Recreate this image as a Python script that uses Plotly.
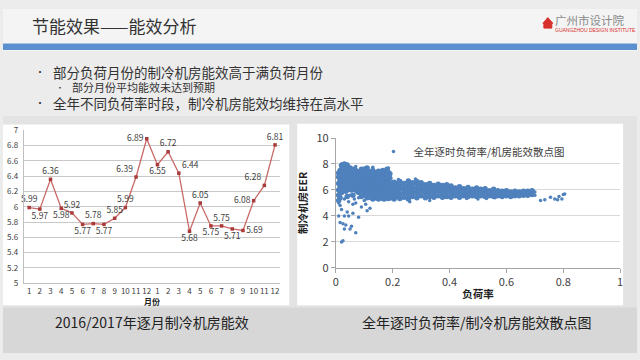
import plotly.graph_objects as go

W, H = 640, 360
def px(x): return x / W
def py(y): return 1 - y / H

# ---------------- data ----------------
month_labels = ["1","2","3","4","5","6","7","8","9","10","11","12",
                "1","2","3","4","5","6","7","8","9","10","11","12"]
monthly_eer = [5.99, 5.97, 6.36, 5.98, 5.92, 5.77, 5.78, 5.77, 5.85, 5.99, 6.39, 6.89,
               6.55, 6.72, 6.44, 5.68, 6.05, 5.75, 5.75, 5.71, 5.69, 6.08, 6.28, 6.81]
label_pos = ["top center","bottom center","top center","bottom center","top center","bottom center",
             "top center","bottom center","top center","top center","top left","middle left",
             "bottom center","top center","top right","bottom center","top center","bottom center",
             "top center","bottom center","middle right","middle left","top left","top center"]

# scatter: left blob (low load rate)
blob_cols = [
    (0.010, [5.2, 5.6, 6.0, 6.5, 7.0, 7.3]),
    (0.015, [5.4, 5.8, 6.25, 6.75, 7.15, 7.5]),
    (0.020, [5.8, 6.2, 6.6, 6.9, 7.2, 7.6, 7.9]),
    (0.025, [6.0, 6.4, 6.75, 7.05, 7.4, 7.8]),
    (0.030, [6.1, 6.4, 6.7, 7.0, 7.3, 7.7, 8.0]),
    (0.035, [5.9, 6.25, 6.55, 6.85, 7.15, 7.45]),
    (0.040, [5.5, 6.0, 6.3, 6.6, 6.9, 7.2, 7.5, 7.9]),
    (0.045, [6.1, 6.4, 6.7, 7.0, 7.3]),
    (0.050, [6.2, 6.5, 6.8, 7.1, 7.4, 7.7]),
    (0.055, [6.0, 6.35, 6.65, 6.95, 7.25]),
    (0.060, [5.6, 6.1, 6.4, 6.7, 7.0, 7.3, 7.6]),
    (0.065, [6.2, 6.5, 6.8, 7.1, 7.4]),
    (0.070, [6.0, 6.3, 6.6, 6.9, 7.2, 7.5]),
    (0.075, [5.9, 6.45, 6.75, 7.05, 7.35]),
    (0.080, [5.8, 6.2, 6.5, 6.8, 7.1, 7.4]),
    (0.085, [6.1, 6.35, 6.65, 6.95, 7.25]),
    (0.090, [5.5, 6.0, 6.3, 6.6, 6.9, 7.2, 7.6]),
    (0.095, [5.9, 6.2, 6.5, 6.8, 7.1, 7.4]),
    (0.100, [5.7, 6.1, 6.4, 6.7, 7.0, 7.3]),
    (0.105, [5.6, 5.95, 6.3, 6.6, 6.9, 7.2, 7.5]),
    (0.110, [5.4, 5.8, 6.2, 6.5, 6.8, 7.1, 7.4, 7.7]),
    (0.115, [5.6, 6.0, 6.35, 6.65, 6.95, 7.25]),
    (0.120, [5.5, 5.9, 6.2, 6.5, 6.8, 7.1, 7.4]),
    (0.125, [5.4, 5.75, 6.05, 6.4, 6.7, 7.0, 7.3]),
    (0.130, [5.3, 5.6, 5.95, 6.3, 6.6, 6.9, 7.2, 7.5]),
    (0.135, [5.5, 5.85, 6.2, 6.5, 6.8, 7.1, 7.35]),
    (0.140, [5.4, 5.75, 6.1, 6.4, 6.7, 7.0, 7.3]),
    (0.145, [5.5, 5.85, 6.15, 6.45, 6.75, 7.05, 7.35]),
    (0.150, [5.3, 5.6, 5.95, 6.25, 6.55, 6.85, 7.15, 7.45]),
    (0.155, [5.45, 5.8, 6.15, 6.45, 6.75, 7.05, 7.3]),
    (0.160, [5.4, 5.75, 6.1, 6.4, 6.7, 7.0, 7.3]),
    (0.165, [5.35, 5.65, 6.0, 6.3, 6.6, 6.9, 7.2, 7.5]),
    (0.170, [5.3, 5.6, 5.9, 6.2, 6.5, 6.8, 7.1, 7.4]),
    (0.175, [5.45, 5.8, 6.1, 6.4, 6.7, 7.0, 7.3]),
    (0.180, [5.4, 5.7, 6.0, 6.3, 6.6, 6.9, 7.2, 7.6]),
    (0.185, [5.35, 5.65, 5.95, 6.3, 6.65, 7.0, 7.35]),
    (0.190, [5.5, 5.85, 6.2, 6.55, 6.9, 7.25]),
]
# scatter: main band
band_cols = [
    (0.195, [5.4, 5.75, 6.1, 6.45]),
    (0.205, [5.3, 5.6, 5.95, 6.3, 6.6]),
    (0.215, [5.5, 5.85, 6.2, 6.5]),
    (0.225, [5.35, 5.7, 6.05, 6.4, 6.65]),
    (0.24, [5.45, 5.8, 6.15, 6.5]),
    (0.255, [5.3, 5.65, 6.0, 6.35, 6.7]),
    (0.27, [5.5, 5.85, 6.2, 6.55]),
    (0.285, [5.4, 5.75, 6.1, 6.45, 6.65]),
    (0.30, [5.55, 5.9, 6.25, 6.55]),
    (0.315, [5.4, 5.75, 6.05, 6.4]),
    (0.33, [5.5, 5.85, 6.2, 6.5]),
    (0.345, [5.45, 5.75, 6.05, 6.35]),
    (0.36, [5.55, 5.9, 6.2, 6.45]),
    (0.375, [5.45, 5.75, 6.05, 6.35]),
    (0.39, [5.5, 5.85, 6.15, 6.4]),
    (0.405, [5.45, 5.75, 6.05, 6.3]),
    (0.42, [5.55, 5.85, 6.15]),
    (0.435, [5.45, 5.7, 6.0, 6.25]),
    (0.45, [5.55, 5.8, 6.1]),
    (0.465, [5.5, 5.75, 6.0, 6.2]),
    (0.48, [5.55, 5.8, 6.05]),
    (0.495, [5.5, 5.7, 5.95, 6.15]),
    (0.51, [5.55, 5.8, 6.05]),
    (0.525, [5.5, 5.7, 5.9, 6.1]),
    (0.54, [5.55, 5.75, 5.95]),
    (0.555, [5.5, 5.7, 5.9, 6.05]),
    (0.57, [5.55, 5.75, 5.95]),
    (0.585, [5.5, 5.7, 5.9]),
    (0.60, [5.55, 5.75, 5.95]),
    (0.615, [5.5, 5.7, 5.85]),
    (0.63, [5.55, 5.75, 5.9]),
    (0.645, [5.55, 5.7, 5.85]),
    (0.66, [5.6, 5.75, 5.9]),
    (0.675, [5.6, 5.75, 5.9]),
    (0.69, [5.65, 5.8, 5.95]),
]
# scatter: sparse / outlying points
sparse_load = [0.015, 0.01, 0.03, 0.045, 0.05, 0.06, 0.065, 0.07, 0.08, 0.09, 0.10, 0.12, 0.11, 0.105,
               0.02, 0.025, 0.03, 0.035, 0.015, 0.025, 0.05, 0.055, 0.07, 0.08, 0.03, 0.04, 0.045, 0.01,
               0.06, 0.02, 0.07, 0.10, 0.13, 0.185, 0.02, 0.04,
               0.26, 0.33, 0.46, 0.50, 0.53, 0.56, 0.28, 0.22,
               0.70, 0.72, 0.735, 0.755, 0.77, 0.78, 0.785, 0.795, 0.80, 0.805, 0.70]
sparse_eer = [4.8, 5.0, 5.3, 5.1, 5.6, 4.9, 5.3, 5.0, 5.4, 4.7, 5.2, 4.6, 4.4, 4.9,
              2.0, 2.1, 3.0, 3.3, 3.5, 3.4, 3.0, 3.2, 2.7, 3.9, 4.0, 4.3, 4.0, 4.0,
              4.2, 4.5, 7.8, 7.7, 7.75, 7.7, 8.0, 8.0,
              5.1, 5.2, 5.35, 5.3, 5.35, 5.4, 6.85, 6.8,
              5.85, 5.2, 5.25, 5.45, 5.3, 5.25, 5.5, 5.3, 5.65, 5.7, 5.6]

cloud_load = []
cloud_eer = []
for xv, ys in blob_cols + band_cols:
    for yv in ys:
        cloud_load.append(xv)
        cloud_eer.append(yv)

FONT = "Noto Sans CJK SC"
BLUE = "#4f81bd"

fig = go.Figure()

fig.add_trace(go.Scatter(
    x=list(range(len(monthly_eer))), y=monthly_eer, mode="lines+markers+text",
    text=[f"{v:.2f}" for v in monthly_eer], textposition=label_pos,
    textfont=dict(size=8.5, color="#404040", family=FONT),
    line=dict(color="#c96a68", width=1.3),
    marker=dict(symbol="square", size=3.5, color="#a83a3a"),
    xaxis="x", yaxis="y", showlegend=False, cliponaxis=False))

fig.add_trace(go.Scatter(
    x=cloud_load, y=cloud_eer, mode="markers", name="全年逐时负荷率/机房能效散点图",
    legendgroup="s", showlegend=False,
    marker=dict(symbol="circle", size=5.5, color=BLUE),
    xaxis="x2", yaxis="y2"))
fig.add_trace(go.Scatter(
    x=sparse_load, y=sparse_eer, mode="markers", name="全年逐时负荷率/机房能效散点图",
    legendgroup="s", showlegend=True,
    marker=dict(symbol="circle", size=3.5, color=BLUE),
    xaxis="x2", yaxis="y2"))

shapes = []
# backgrounds
shapes.append(dict(type="rect", xref="paper", yref="paper", x0=0, x1=1, y0=py(44), y1=1,
                   fillcolor="#f4f4f4", line_width=0, layer="below"))
shapes.append(dict(type="rect", xref="paper", yref="paper", x0=0, x1=1, y0=py(43), y1=py(36),
                   fillcolor="#5b8fd0", line_width=0, layer="below"))
shapes.append(dict(type="rect", xref="paper", yref="paper", x0=0, x1=1, y0=py(312), y1=py(112),
                   fillcolor="#e3e3e3", line_width=0, layer="below"))
shapes.append(dict(type="rect", xref="paper", yref="paper", x0=0, x1=1, y0=0, y1=py(312),
                   fillcolor="#d7d7d7", line_width=0, layer="below"))
# chart panels
shapes.append(dict(type="rect", xref="paper", yref="paper", x0=px(0), x1=px(289), y0=py(310), y1=py(121),
                   fillcolor="white", line_width=0, layer="below"))
shapes.append(dict(type="rect", xref="paper", yref="paper", x0=px(297), x1=px(626), y0=py(310), y1=py(120),
                   fillcolor="white", line_width=0, layer="below"))
# logo house icon
hx = [545, 550, 555, 554, 554, 546, 546]
hy = [15, 9, 15, 15, 20, 20, 15]
path = "M " + " L ".join(f"{px(a)},{py(b)}" for a, b in zip(hx, hy)) + " Z"
shapes.append(dict(type="path", xref="paper", yref="paper", path=path,
                   fillcolor="#d8302a", line=dict(color="#d8302a", width=1)))

annotations = [
    dict(text="节能效果——能效分析", x=px(28), y=py(17), xanchor="left", yanchor="middle",
         font=dict(size=17, color="#333333", family=FONT)),
    dict(text="广州市设计院", x=px(556), y=py(11), xanchor="left", yanchor="middle",
         font=dict(size=11.5, color="#8a8a8a", family=FONT)),
    dict(text="GUANGZHOU DESIGN INSTITUTE", x=px(556), y=py(22), xanchor="left", yanchor="middle",
         font=dict(size=5, color="#d8302a", family="Liberation Sans")),
    dict(text="•", x=px(37), y=py(65.5), xanchor="center", yanchor="middle",
         font=dict(size=10, color="#333333", family=FONT)),
    dict(text="部分负荷月份的制冷机房能效高于满负荷月份", x=px(49), y=py(65.5), xanchor="left", yanchor="middle",
         font=dict(size=13.5, color="#333333", family=FONT)),
    dict(text="•", x=px(58), y=py(82), xanchor="center", yanchor="middle",
         font=dict(size=8, color="#333333", family=FONT)),
    dict(text="部分月份平均能效未达到预期", x=px(69), y=py(82), xanchor="left", yanchor="middle",
         font=dict(size=11, color="#333333", family=FONT)),
    dict(text="•", x=px(37), y=py(98), xanchor="center", yanchor="middle",
         font=dict(size=10, color="#333333", family=FONT)),
    dict(text="全年不同负荷率时段，制冷机房能效均维持在高水平", x=px(49), y=py(98.5), xanchor="left", yanchor="middle",
         font=dict(size=13.5, color="#333333", family=FONT)),
    dict(text="2016/2017年逐月制冷机房能效", x=px(150), y=py(328), xanchor="center", yanchor="middle",
         font=dict(size=14, color="#222222", family=FONT)),
    dict(text="全年逐时负荷率/制冷机房能效散点图", x=px(478), y=py(328), xanchor="center", yanchor="middle",
         font=dict(size=14, color="#222222", family=FONT)),
]
for a in annotations:
    a.update(xref="paper", yref="paper", showarrow=False, borderpad=0)

fig.update_layout(
    width=W, height=H, margin=dict(l=0, r=0, t=0, b=0),
    paper_bgcolor="#ececec", plot_bgcolor="rgba(0,0,0,0)",
    font=dict(family=FONT, color="#404040"),
    shapes=shapes, annotations=annotations,
    xaxis=dict(domain=[px(21), px(280)], range=[-0.5, 23.5],
               tickmode="array", tickvals=list(range(len(month_labels))), ticktext=month_labels,
               tickangle=0,
               tickfont=dict(size=8, color="#404040"), showgrid=False, zeroline=False,
               showline=True, linecolor="#bfbfbf", ticks="", anchor="y",
               title=dict(text="<b>月份</b>", font=dict(size=8, color="#222222"), standoff=2)),
    yaxis=dict(domain=[py(287), py(127)], range=[5, 7], dtick=0.2, tickformat="~g",
               tickfont=dict(size=8, color="#404040"), showgrid=True, gridcolor="#c8c8c8",
               gridwidth=0.8, zeroline=False, showline=True, linecolor="#bfbfbf", anchor="x",
               ticklabelstandoff=3),
    xaxis2=dict(domain=[px(336), px(623)], range=[0, 1], dtick=0.2, tickformat="~g",
                tickfont=dict(size=11, color="#404040"), showgrid=False, zeroline=False,
                showline=True, linecolor="#a6a6a6", ticks="outside", ticklen=4, tickcolor="#a6a6a6",
                anchor="y2",
                title=dict(text="<b>负荷率</b>", font=dict(size=10.5, color="#222222"), standoff=2)),
    yaxis2=dict(domain=[py(271), py(135)], range=[0, 10], dtick=2,
                tickfont=dict(size=11, color="#404040"), showgrid=True, gridcolor="#d9d9d9",
                zeroline=False, showline=True, linecolor="#a6a6a6", ticks="outside", ticklen=4,
                tickcolor="#a6a6a6", anchor="x2",
                title=dict(text="<b>制冷机房EER</b>", font=dict(size=10.5, color="#222222"), standoff=6)),
    legend=dict(x=px(374), y=py(134), xanchor="left", yanchor="top", bgcolor="rgba(0,0,0,0)",
                font=dict(size=10.5, color="#404040"), itemwidth=30),
)

fig.write_html("out.html", config={"displayModeBar": False},
               post_script="document.body.style.margin='0';document.body.style.overflow='hidden';")
